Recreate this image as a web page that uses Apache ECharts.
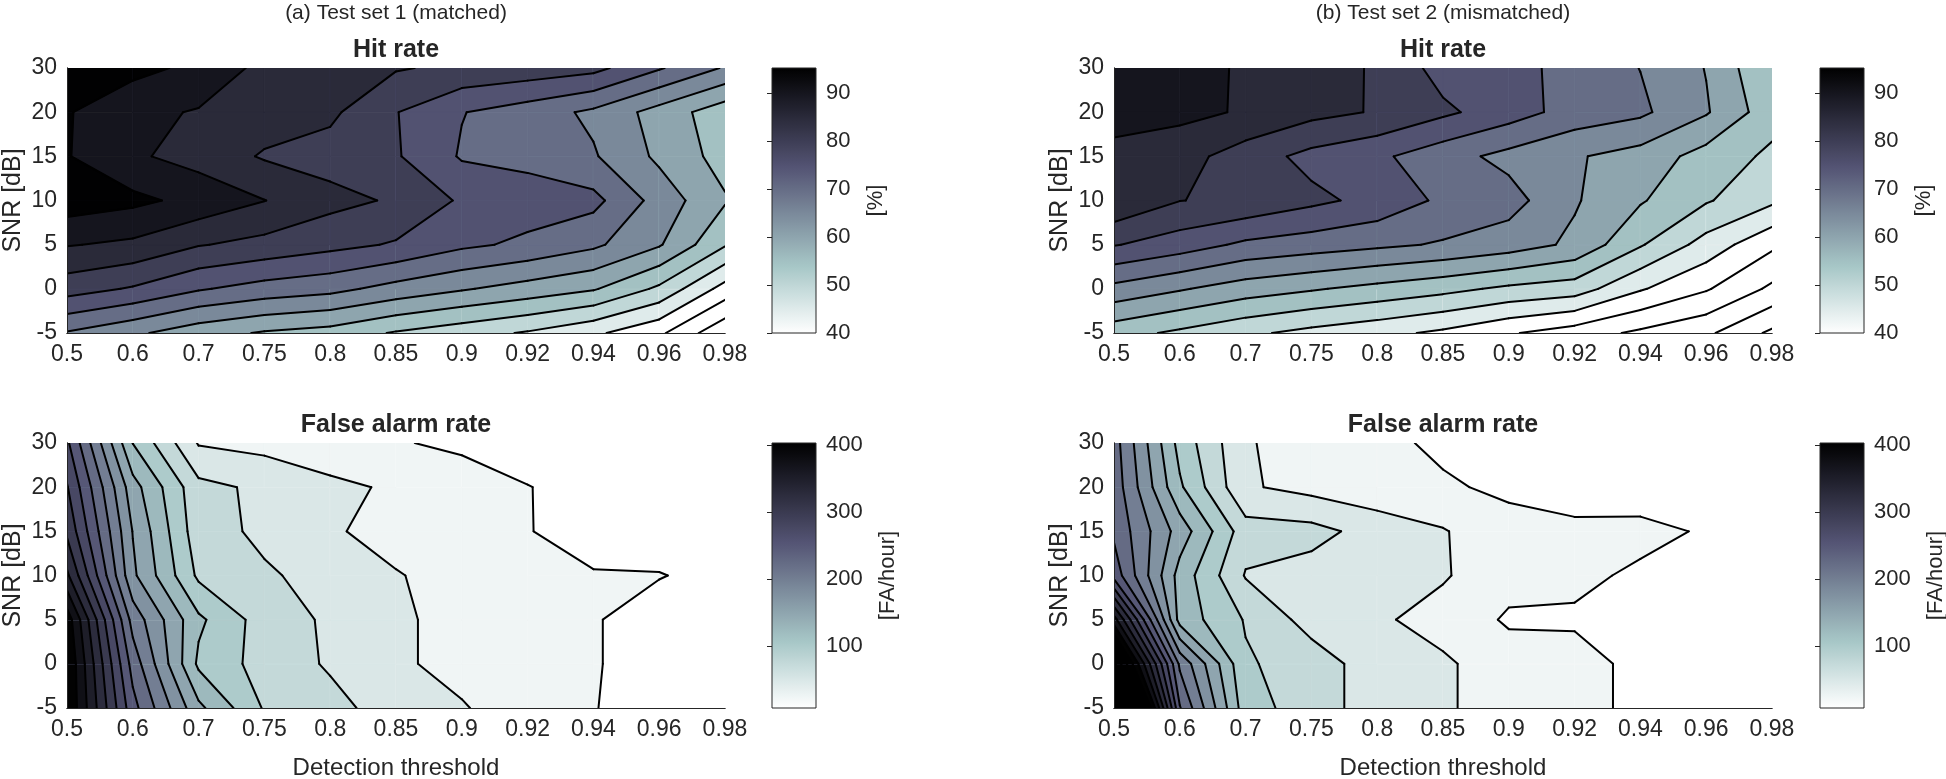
<!DOCTYPE html>
<html>
<head>
<meta charset="utf-8">
<title>Hit rate and false alarm rate vs detection threshold</title>
<script src="https://cdn.jsdelivr.net/npm/echarts@6/dist/echarts.min.js"></script>
<style>
  html, body { margin: 0; padding: 0; background: #fff; }
  #chart { width: 1946px; height: 779px; }
</style>
</head>
<body>
<div id="chart"></div>
<script>
// tick labels of the grid (x = detection threshold, y = SNR)
const thresholds = ['0.5', '0.6', '0.7', '0.75', '0.8', '0.85', '0.9', '0.92', '0.94', '0.96', '0.98'];
const snrLabels = ['-5', '0', '5', '10', '15', '20', '30'];

// hit rate [%], one row per SNR (-5 dB first), one column per threshold
const hitSet1 = [
  [69.6, 66, 62, 59.5, 58, 54.5, 52, 49.5, 46, 41, 31],
  [82.2, 79.5, 75.5, 73, 71.5, 68.2, 65.5, 63, 60.5, 54, 43],
  [90.3, 89, 85.3, 83.5, 81.5, 79.5, 76, 74, 71, 65.5, 55.5],
  [97.8, 96.2, 93.5, 90.1, 86.5, 84.4, 79.3, 77.5, 76.5, 68, 60.5],
  [95.3, 90.8, 88, 84.5, 83, 80.5, 74.5, 73.5, 70.5, 64, 58],
  [95.4, 91.3, 89.6, 87.5, 86, 80.2, 75.2, 72.5, 69, 63, 57],
  [98.5, 96.5, 93.8, 88.5, 87, 85.4, 84, 83, 81.5, 75.5, 69.5]
];
const hitSet2 = [
  [57, 54, 51, 48.5, 46.5, 44, 40.5, 37.5, 34, 31, 24],
  [68.5, 65.5, 62.5, 60.5, 58.5, 56.5, 54, 52.5, 45.5, 40.5, 34],
  [80.3, 77.5, 74, 72.5, 71, 69.5, 67.5, 64, 55.5, 48, 41],
  [89.5, 85.1, 84, 81.2, 78.5, 74, 72, 65.5, 60.5, 55.5, 51],
  [88.5, 87, 82.5, 78.5, 76, 72, 68.5, 65.5, 63, 58, 54],
  [92, 91.3, 89.5, 86.5, 84.6, 81, 77.3, 73, 71, 65.5, 57],
  [93, 91.5, 89.5, 87, 84.5, 78, 76.5, 73.5, 69.9, 64.8, 55]
];

// false alarm rate [FA/hour]
const faSet1 = [
  [425, 259, 156, 97.5, 83, 63, 51, 43, 25.5, 19, 13],
  [425, 240, 120, 90, 72, 52, 46, 37, 26, 19, 13],
  [415, 215, 130, 88, 71, 52, 46, 34, 26, 19, 14],
  [355, 180, 95, 78, 67, 51, 44, 36, 25.5, 25.6, 21],
  [320, 174, 85, 70, 52, 44, 36, 25.3, 22, 18, 12],
  [302, 160, 82, 70, 55, 47, 38, 25.5, 19, 15, 10],
  [280, 124.5, 48, 42, 36, 27, 20, 17, 14, 11, 9]
];
const faSet2 = [
  [645, 252, 110, 88, 62, 54, 36, 32, 20, 15, 11],
  [506, 220, 103, 88, 62, 54, 36, 32, 20, 15, 11],
  [386, 140, 98, 65, 54, 40, 22, 22.5, 18, 14, 11],
  [265, 140, 73.2, 65, 58, 52.5, 33, 29, 22, 18, 13],
  [245, 164, 85.8, 83.25, 65, 52, 30.5, 28.4, 30, 23.2, 15],
  [240, 129, 53, 42, 33, 27, 22, 18, 15, 12, 10],
  [236, 116, 52, 40, 29, 22, 17, 14, 12, 10, 9]
];

// contour levels and colour limits
const hitLevels = [5, 10, 15, 20, 25, 30, 35, 40, 45, 50, 55, 60, 65, 70, 75, 80, 85, 90, 95];
const faLevels = [25, 50, 75, 100, 125, 150, 175, 200, 225, 250, 275, 300, 325, 350, 375, 400,
  425, 450, 475, 500, 525, 550, 575, 600, 625];
const hitLimits = [40, 95.3];
const faLimits = [8, 403];
const hitBarTicks = [40, 50, 60, 70, 80, 90];
const faBarTicks = [100, 200, 300, 400];

const ink = '#262626';
const font = 'Liberation Sans, Arial, Helvetica, sans-serif';

// flipped matlab "bone" colormap
function boneColor(v, lim) {
  let t = (v - lim[0]) / (lim[1] - lim[0]);
  t = Math.min(1, Math.max(0, t));
  const x = 1 - t;
  const c = a => Math.min(1, Math.max(0, a));
  const r = (7 * x + c((x - 0.75) * 4)) / 8;
  const g = (7 * x + c((x - 0.375) * 8 / 3)) / 8;
  const b = (7 * x + c(x * 8 / 3)) / 8;
  return 'rgb(' + Math.round(r * 255) + ',' + Math.round(g * 255) + ',' + Math.round(b * 255) + ')';
}

// one item per grid cell: [i, j, corner values counter-clockwise]
function cells(z) {
  const out = [];
  for (let j = 0; j < z.length - 1; j++) {
    for (let i = 0; i < z[j].length - 1; i++) {
      out.push([i, j, z[j][i], z[j][i + 1], z[j + 1][i + 1], z[j + 1][i]]);
    }
  }
  return out;
}

function lerp(a, b, t) {
  return [a[0] + (b[0] - a[0]) * t, a[1] + (b[1] - a[1]) * t];
}

// part of the cell where value >= L (marching squares, linear on the edges)
function bandPolygon(pts, v, L) {
  const out = [];
  for (let k = 0; k < 4; k++) {
    const n = (k + 1) % 4;
    const inK = v[k] >= L, inN = v[n] >= L;
    if (inK) out.push(pts[k]);
    if (inK !== inN) out.push(lerp(pts[k], pts[n], (L - v[k]) / (v[n] - v[k])));
  }
  return out;
}

function isoSegments(pts, v, L) {
  const cross = [];
  for (let k = 0; k < 4; k++) {
    const n = (k + 1) % 4;
    const inK = v[k] >= L, inN = v[n] >= L;
    if (inK !== inN) cross.push({p: lerp(pts[k], pts[n], (L - v[k]) / (v[n] - v[k])), leaving: inK});
  }
  const segs = [];
  cross.forEach((c, m) => {
    if (c.leaving) segs.push([c.p, cross[(m + 1) % cross.length].p]);
  });
  return segs;
}

function cellGeometry(api) {
  const i = api.value(0), j = api.value(1);
  const v = [api.value(2), api.value(3), api.value(4), api.value(5)];
  const pts = [api.coord([i, j]), api.coord([i + 1, j]), api.coord([i + 1, j + 1]), api.coord([i, j + 1])];
  return {v, pts, lo: Math.min.apply(null, v), hi: Math.max.apply(null, v)};
}

function renderFill(levels, lim) {
  return function (params, api) {
    const c = cellGeometry(api);
    const poly = (points, color) => ({
      type: 'polygon',
      shape: {points: points},
      style: {fill: color, stroke: color, lineWidth: 0.8}
    });
    let base = lim[0];
    levels.forEach(L => { if (L <= c.lo) base = L; });
    const children = [poly(c.pts, boneColor(base, lim))];
    levels.forEach(L => {
      if (L > c.lo && L <= c.hi) children.push(poly(bandPolygon(c.pts, c.v, L), boneColor(L, lim)));
    });
    return {type: 'group', children: children};
  };
}

function renderLines(levels) {
  return function (params, api) {
    const c = cellGeometry(api);
    const children = [];
    levels.forEach(L => {
      if (L <= c.lo || L > c.hi) return;
      isoSegments(c.pts, c.v, L).forEach(s => {
        children.push({
          type: 'line',
          shape: {x1: s[0][0], y1: s[0][1], x2: s[1][0], y2: s[1][1]},
          style: {stroke: '#000', lineWidth: 2, lineCap: 'round'}
        });
      });
    });
    return {type: 'group', children: children};
  };
}

function renderBar(params, api) {
  const lo = api.value(1), hi = api.value(3);
  const p0 = api.coord([api.value(0), hi]);
  const p1 = api.coord([api.value(2), lo]);
  const stops = [];
  for (let k = 0; k <= 40; k++) {
    const o = k / 40;
    stops.push({offset: o, color: boneColor(hi - o * (hi - lo), [lo, hi])});
  }
  return {
    type: 'rect',
    shape: {x: p0[0], y: p0[1], width: p1[0] - p0[0], height: p1[1] - p0[1]},
    style: {fill: new echarts.graphic.LinearGradient(0, 0, 0, 1, stops), stroke: ink, lineWidth: 1}
  };
}

const plotW = 658, plotH = 265, barW = 44;
const panels = [
  {z: hitSet1, levels: hitLevels, lim: hitLimits, ticks: hitBarTicks, left: 67, top: 68, bar: 772,
   title: 'Hit rate', unit: '[%]', unitGap: 49, xname: ''},
  {z: hitSet2, levels: hitLevels, lim: hitLimits, ticks: hitBarTicks, left: 1114, top: 68, bar: 1820,
   title: 'Hit rate', unit: '[%]', unitGap: 49, xname: ''},
  {z: faSet1, levels: faLevels, lim: faLimits, ticks: faBarTicks, left: 67, top: 443, bar: 772,
   title: 'False alarm rate', unit: '[FA/hour]', unitGap: 61, xname: 'Detection threshold'},
  {z: faSet2, levels: faLevels, lim: faLimits, ticks: faBarTicks, left: 1114, top: 443, bar: 1820,
   title: 'False alarm rate', unit: '[FA/hour]', unitGap: 61, xname: 'Detection threshold'}
];

const frame = {lineStyle: {color: ink, width: 1}};
const option = {
  animation: false,
  backgroundColor: '#fff',
  textStyle: {fontFamily: font},
  title: [
    {text: '(a) Test set 1 (matched)', left: 67 + plotW / 2, top: 3, textAlign: 'center', padding: 0,
     textStyle: {fontSize: 21, fontWeight: 'normal', color: ink, fontFamily: font}},
    {text: '(b) Test set 2 (mismatched)', left: 1114 + plotW / 2, top: 3, textAlign: 'center', padding: 0,
     textStyle: {fontSize: 21, fontWeight: 'normal', color: ink, fontFamily: font}}
  ],
  grid: [],
  xAxis: [],
  yAxis: [],
  series: []
};

panels.forEach(p => {
  const g = option.grid.length;
  option.grid.push({left: p.left, top: p.top, width: plotW, height: plotH, outerBoundsMode: 'none'});
  const xi = option.xAxis.length;
  option.xAxis.push({
    gridIndex: g, type: 'value', min: 0, max: thresholds.length - 1, interval: 1, position: 'bottom', z: 5,
    axisLine: frame, axisTick: {show: false}, splitLine: {show: false},
    axisLabel: {margin: 10, fontSize: 23, color: ink, fontFamily: font, formatter: v => thresholds[v]},
    name: p.xname, nameLocation: 'middle', nameGap: 48, nameMoveOverlap: false,
    nameTextStyle: {fontSize: 24, color: ink, fontFamily: font}
  });
  option.xAxis.push({
    gridIndex: g, type: 'value', min: 0, max: thresholds.length - 1, position: 'top', z: 5,
    axisLine: frame, axisTick: {show: false}, axisLabel: {show: false}, splitLine: {show: false}
  });
  const yi = option.yAxis.length;
  option.yAxis.push({
    gridIndex: g, type: 'value', min: 0, max: snrLabels.length - 1, interval: 1, position: 'left', z: 5,
    axisLine: frame, axisTick: {show: false}, splitLine: {show: false},
    axisLabel: {margin: 10, fontSize: 23, color: ink, fontFamily: font, formatter: v => snrLabels[v]},
    name: 'SNR [dB]', nameLocation: 'middle', nameRotate: 90, nameGap: 41, nameMoveOverlap: false,
    nameTextStyle: {fontSize: 25, color: ink, fontFamily: font}
  });
  option.yAxis.push({
    gridIndex: g, type: 'value', min: 0, max: snrLabels.length - 1, position: 'right', z: 5,
    axisLine: frame, axisTick: {show: false}, axisLabel: {show: false}, splitLine: {show: false}
  });
  option.series.push({
    type: 'custom', xAxisIndex: xi, yAxisIndex: yi, clip: true, silent: true, z: 2,
    data: cells(p.z), renderItem: renderFill(p.levels, p.lim)
  });
  option.series.push({
    type: 'custom', xAxisIndex: xi, yAxisIndex: yi, clip: true, silent: true, z: 3,
    data: cells(p.z), renderItem: renderLines(p.levels)
  });
  option.title.push({
    text: p.title, left: p.left + plotW / 2, top: p.top - 30, textAlign: 'center', padding: 0,
    textStyle: {fontSize: 25, fontWeight: 'bold', color: ink, fontFamily: font}
  });

  // colorbar
  const gb = option.grid.length;
  option.grid.push({left: p.bar, top: p.top, width: barW, height: plotH, outerBoundsMode: 'none'});
  const xc = option.xAxis.length;
  option.xAxis.push({gridIndex: gb, type: 'value', min: 0, max: 1, show: false});
  const yc = option.yAxis.length;
  option.yAxis.push({
    gridIndex: gb, type: 'value', min: p.lim[0], max: p.lim[1], position: 'right', z: 5,
    axisLine: {show: false}, splitLine: {show: false},
    axisTick: {inside: true, length: 5, lineStyle: {color: ink}, customValues: p.ticks},
    axisLabel: {margin: 10, fontSize: 22, color: ink, fontFamily: font, customValues: p.ticks},
    name: p.unit, nameLocation: 'middle', nameRotate: 90, nameGap: p.unitGap, nameMoveOverlap: false,
    nameTextStyle: {fontSize: 22, color: ink, fontFamily: font}
  });
  option.series.push({
    type: 'custom', xAxisIndex: xc, yAxisIndex: yc, silent: true, z: 2,
    data: [[0, p.lim[0], 1, p.lim[1]]], renderItem: renderBar
  });
});

const chart = echarts.init(document.getElementById('chart'));
chart.setOption(option);
</script>
</body>
</html>
